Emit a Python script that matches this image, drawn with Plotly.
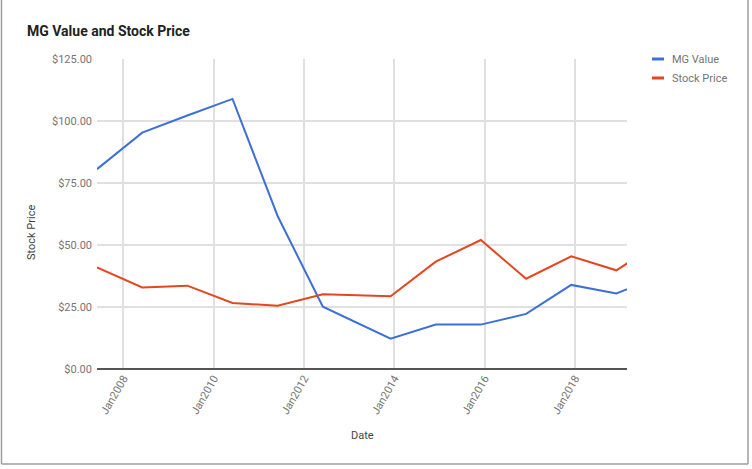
import plotly.graph_objects as go

dates = ["2007-06-01", "2008-06-01", "2009-06-01", "2010-06-01", "2011-06-01",
         "2012-06-01", "2013-12-01", "2014-12-01", "2015-12-01", "2016-12-01",
         "2017-12-01", "2018-12-01", "2019-12-01"]
mg_value = [80.6, 95.3, 102.2, 108.9, 61.7, 25.1, 12.2, 17.9, 17.9, 22.2, 33.9, 30.5, 37.5]
stock_price = [41.0, 32.9, 33.6, 26.6, 25.5, 30.1, 29.3, 43.3, 52.0, 36.4, 45.4, 39.8, 51.5]
series_names = ["MG Value", "Stock Price"]
colors = ["#3c6fd8", "#e4461f"]

W, H = 752, 469
L, R, T, B = 97, 125, 59, 100
pw, ph = W - L - R, H - T - B

def px(x):
    return (x - L) / pw

def py(y):
    return (H - B - y) / ph

fig = go.Figure()
for name, vals, c in zip(series_names, [mg_value, stock_price], colors):
    fig.add_trace(go.Scatter(x=dates, y=vals, mode="lines", name=name,
                             line=dict(color=c, width=2), showlegend=False))

font = "Roboto, Arial, sans-serif"
fig.update_layout(
    width=W, height=H,
    margin=dict(l=L, r=R, t=T, b=B),
    paper_bgcolor="white", plot_bgcolor="white",
    font=dict(family=font, size=11, color="#757575"),
    xaxis=dict(
        type="date", range=["2007-06-01", "2019-02-25"],
        tick0="2008-01-01", dtick="M24", tickformat="%b%Y",
        tickangle=-60, showgrid=True, gridcolor="#e0e0e0", gridwidth=1.5,
        zeroline=False, showline=False, ticks="",
        tickfont=dict(family=font, size=11, color="#757575"),
    ),
    yaxis=dict(
        range=[0, 125], dtick=25, tickformat="$,.2f",
        showgrid=True, gridcolor="#e0e0e0", gridwidth=1.5,
        zeroline=True, zerolinecolor="#555555", zerolinewidth=1.5,
        ticks="", ticklabelstandoff=4,
        tickfont=dict(family=font, size=11, color="#757575"),
    ),
)

annotations = [
    dict(text="<b>MG Value and Stock Price</b>", x=px(25), y=py(31), xref="paper", yref="paper",
         xanchor="left", yanchor="middle", showarrow=False,
         font=dict(family=font, size=14, color="#222222")),
    dict(text="Stock Price", x=px(31), y=py(233), xref="paper", yref="paper",
         textangle=-90, xanchor="center", yanchor="middle", showarrow=False,
         font=dict(family=font, size=11, color="#444444")),
    dict(text="Date", x=px(362), y=py(435), xref="paper", yref="paper",
         xanchor="center", yanchor="middle", showarrow=False,
         font=dict(family=font, size=11, color="#444444")),
]
shapes = []
for i, (name, c) in enumerate(zip(series_names, colors)):
    yy = 59 + i * 19
    shapes.append(dict(type="line", xref="paper", yref="paper",
                       x0=px(652), x1=px(664), y0=py(yy), y1=py(yy),
                       line=dict(color=c, width=3)))
    annotations.append(dict(text=name, x=px(670), y=py(yy), xref="paper", yref="paper",
                            xanchor="left", yanchor="middle", showarrow=False,
                            font=dict(family=font, size=11, color="#757575")))

border = "#9e9e9e"
shapes += [
    dict(type="line", xref="paper", yref="paper", x0=px(1.5), x1=px(1.5), y0=py(0), y1=py(464),
         line=dict(color=border, width=1.5)),
    dict(type="line", xref="paper", yref="paper", x0=px(1.5), x1=px(748), y0=py(464), y1=py(464),
         line=dict(color=border, width=1.5)),
    dict(type="line", xref="paper", yref="paper", x0=px(748), x1=px(748), y0=py(0), y1=py(464),
         line=dict(color=border, width=1.5)),
]
fig.update_layout(annotations=annotations, shapes=shapes)

fig.write_html("out.html", config={"displayModeBar": False},
               post_script="document.body.style.margin='0';document.body.style.overflow='hidden';")
